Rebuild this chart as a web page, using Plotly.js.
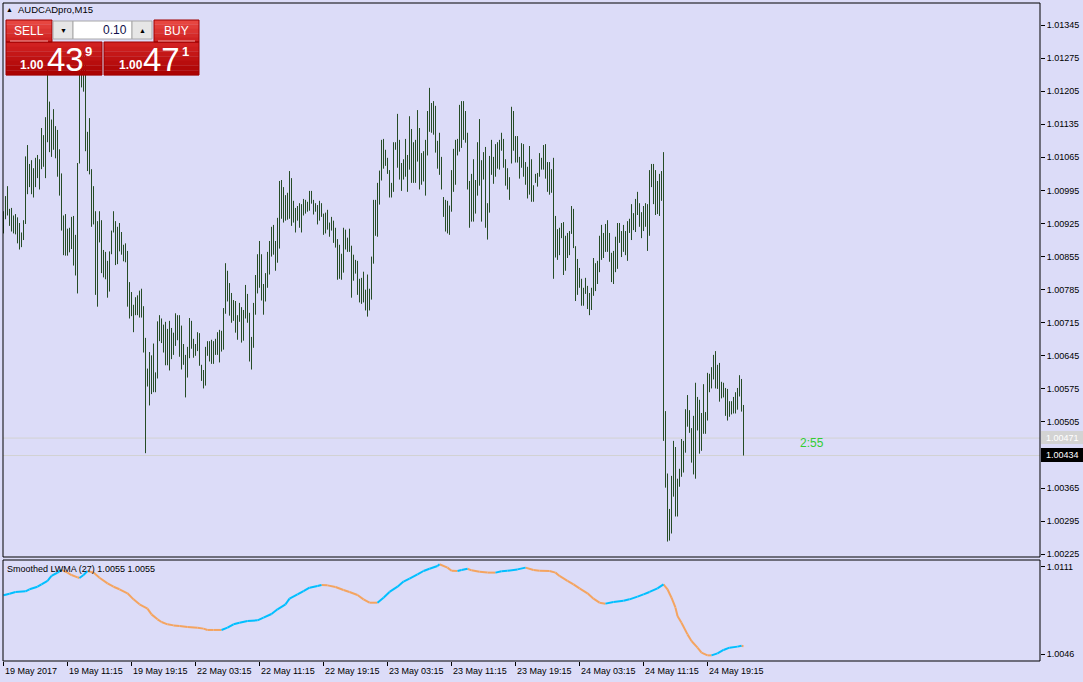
<!DOCTYPE html>
<html><head><meta charset="utf-8">
<script src="https://cdn.plot.ly/plotly-3.0.1.min.js"></script>
<style>html,body{margin:0;padding:0;background:#DCDCF8;}#chart{width:1083px;height:682px;}</style>
</head><body><div id="chart"></div>
<script>
// ---------------- DATA ----------------
const symbolTitle = "AUDCADpro,M15";
const indicatorLabel = "Smoothed LWMA (27) 1.0055 1.0055";
const countdown = "2:55";
const lotSize = "0.10";
const sellQuote = ["1.00", "43", "9"];
const buyQuote = ["1.00", "47", "1"];
const bidPrice = 1.00434;
const askPrice = 1.00471;

// M15 bar highs (bar index 0 = 19 May 03:15)
const barHigh = [
1.00951,1.00983,1.01004,1.00956,1.00958,1.00942,1.00945,1.00938,1.00926,1.00906,
1.00932,1.01067,1.01091,1.01051,1.01059,1.01042,1.01064,1.01070,1.01061,1.01127,
1.01112,1.01150,1.01250,1.01183,1.01145,1.01167,1.01131,1.01123,1.01082,1.01031,
1.00942,1.00945,1.00914,1.00916,1.00939,1.00941,1.00901,1.01053,1.01296,1.01302,
1.01300,1.01290,1.01119,1.01148,1.01040,1.01004,1.00951,1.00930,1.00951,1.00932,
1.00869,1.00865,1.00846,1.00866,1.00910,1.00951,1.00930,1.00918,1.00926,1.00907,
1.00880,1.00883,1.00867,1.00801,1.00780,1.00753,1.00769,1.00773,1.00783,1.00787,
1.00750,1.00683,1.00618,1.00653,1.00646,1.00671,1.00610,1.00718,1.00731,1.00724,
1.00711,1.00717,1.00702,1.00719,1.00704,1.00694,1.00735,1.00731,1.00731,1.00709,
1.00670,1.00647,1.00664,1.00725,1.00719,1.00681,1.00670,1.00695,1.00693,1.00626,
1.00615,1.00664,1.00676,1.00676,1.00679,1.00676,1.00681,1.00695,1.00700,1.00698,
1.00746,1.00841,1.00825,1.00799,1.00778,1.00763,1.00761,1.00731,1.00757,1.00748,
1.00742,1.00795,1.00776,1.00736,1.00685,1.00757,1.00816,1.00860,1.00888,1.00860,
1.00797,1.00820,1.00865,1.00888,1.00918,1.00922,1.00888,1.00937,1.01015,1.01017,
1.01002,1.00985,1.00990,1.01036,1.01021,1.00973,1.00958,1.00962,1.00968,1.00966,
1.00977,1.00975,1.00971,1.00994,1.00994,1.00975,1.00968,1.00964,1.00973,1.00968,
1.00946,1.00948,1.00954,1.00927,1.00939,1.00931,1.00916,1.00892,1.00880,1.00861,
1.00916,1.00912,1.00895,1.00914,1.00878,1.00859,1.00848,1.00846,1.00808,1.00810,
1.00823,1.00785,1.00817,1.00787,1.00855,1.00975,1.00975,1.01011,1.01037,1.01102,
1.01104,1.01081,1.01064,1.01038,1.01011,1.01097,1.01097,1.01157,1.01102,1.01053,
1.01061,1.01104,1.01070,1.01152,1.01125,1.01097,1.01102,1.01165,1.01127,1.01074,
1.01078,1.01102,1.01163,1.01212,1.01180,1.01184,1.01174,1.01100,1.01117,1.01066,
1.00981,1.00975,1.00973,1.00963,1.01038,1.01083,1.01102,1.01104,1.01176,1.01184,
1.01184,1.01163,1.01117,1.01015,1.01030,1.01061,1.01017,1.01097,1.01146,1.01059,
1.01076,1.01087,1.00968,1.01068,1.01102,1.01066,1.01093,1.01097,1.01102,1.01117,
1.01104,1.01061,1.01042,1.01023,1.01172,1.01163,1.01110,1.01110,1.01066,1.01095,
1.01093,1.01055,1.01045,1.01089,1.01061,1.01006,1.01030,1.01032,1.01074,1.01064,
1.01091,1.01093,1.01055,1.01055,1.01040,1.01064,1.00941,1.00913,1.00916,1.00926,
1.00928,1.00899,1.00905,1.00909,1.00962,1.00956,1.00877,1.00850,1.00831,1.00808,
1.00789,1.00810,1.00793,1.00778,1.00789,1.00852,1.00841,1.00846,1.00899,1.00922,
1.00905,1.00924,1.00932,1.00905,1.00863,1.00867,1.00897,1.00926,1.00926,1.00909,
1.00922,1.00909,1.00930,1.00935,1.00966,1.00947,1.00977,1.00992,1.00968,1.00949,
1.00962,1.00968,1.00966,1.01038,1.01051,1.01051,1.01038,1.01015,1.01030,1.01036,
1.01076,1.00528,1.00396,1.00321,1.00391,1.00465,1.00452,1.00385,1.00406,1.00469,
1.00465,1.00532,1.00562,1.00530,1.00492,1.00518,1.00588,1.00558,1.00552,1.00524,
1.00585,1.00526,1.00609,1.00607,1.00621,1.00647,1.00655,1.00626,1.00630,1.00590,
1.00588,1.00577,1.00575,1.00549,1.00549,1.00558,1.00568,1.00577,1.00604,1.00596,
1.00541];

// M15 bar lows
const barLow = [
1.00904,1.00934,1.00942,1.00920,1.00908,1.00904,1.00902,1.00883,1.00870,1.00875,
1.00890,1.00924,1.00987,1.01002,1.00987,1.00980,1.01002,1.01021,1.00997,1.01040,
1.01045,1.01021,1.01097,1.01076,1.01066,1.01081,1.01063,1.01024,1.00984,1.00910,
1.00858,1.00857,1.00857,1.00864,1.00871,1.00836,1.00815,1.00777,1.01052,1.01213,
1.01204,1.01078,1.01036,1.01029,1.00918,1.00923,1.00774,1.00749,1.00885,1.00820,
1.00811,1.00807,1.00768,1.00781,1.00860,1.00906,1.00837,1.00839,1.00866,1.00859,
1.00845,1.00843,1.00749,1.00724,1.00729,1.00695,1.00731,1.00731,1.00726,1.00726,
1.00652,1.00439,1.00580,1.00540,1.00564,1.00568,1.00568,1.00597,1.00676,1.00672,
1.00652,1.00625,1.00625,1.00614,1.00638,1.00647,1.00666,1.00678,1.00643,1.00616,
1.00626,1.00557,1.00599,1.00640,1.00660,1.00641,1.00645,1.00655,1.00624,1.00592,
1.00576,1.00582,1.00645,1.00633,1.00628,1.00628,1.00647,1.00647,1.00631,1.00654,
1.00658,1.00734,1.00760,1.00730,1.00715,1.00719,1.00694,1.00679,1.00717,1.00673,
1.00677,1.00724,1.00715,1.00633,1.00616,1.00662,1.00732,1.00777,1.00789,1.00762,
1.00732,1.00760,1.00789,1.00817,1.00855,1.00859,1.00825,1.00842,1.00872,1.00935,
1.00927,1.00931,1.00933,1.00935,1.00920,1.00927,1.00906,1.00931,1.00916,1.00906,
1.00942,1.00946,1.00950,1.00952,1.00967,1.00944,1.00950,1.00923,1.00931,1.00939,
1.00901,1.00904,1.00912,1.00897,1.00910,1.00884,1.00874,1.00806,1.00808,1.00806,
1.00821,1.00870,1.00865,1.00865,1.00768,1.00804,1.00819,1.00774,1.00758,1.00755,
1.00758,1.00741,1.00728,1.00741,1.00764,1.00840,1.00899,1.00897,1.00965,1.01016,
1.01041,1.01047,1.01030,1.00980,1.00980,1.00992,1.01081,1.01043,1.01018,1.00994,
1.01018,1.01024,1.00992,1.01039,1.01011,1.01011,1.01011,1.01056,1.00997,1.01007,
1.01014,1.00984,1.01069,1.01119,1.01117,1.01113,1.01075,1.01041,1.01028,1.00997,
1.00939,1.00908,1.00904,1.00901,1.00950,1.00992,1.01007,1.01069,1.01077,1.01085,
1.01102,1.01096,1.00997,1.00916,1.00929,1.00929,1.00946,1.00984,1.01005,1.00929,
1.01018,1.00916,1.00891,1.00948,1.01028,1.01009,1.01024,1.01041,1.01039,1.01079,
1.01043,1.01005,1.00997,1.00975,1.01052,1.01079,1.01054,1.01054,1.01020,1.01043,
1.01024,1.01007,1.00978,1.00986,1.00971,1.00971,1.01011,1.01003,1.01024,1.01039,
1.01039,1.01020,1.00992,1.00986,1.00990,1.00808,1.00853,1.00848,1.00858,1.00894,
1.00816,1.00825,1.00852,1.00858,1.00903,1.00873,1.00761,1.00774,1.00789,1.00751,
1.00751,1.00776,1.00744,1.00731,1.00742,1.00772,1.00782,1.00797,1.00822,1.00848,
1.00852,1.00865,1.00865,1.00844,1.00801,1.00797,1.00822,1.00829,1.00884,1.00854,
1.00865,1.00858,1.00846,1.00905,1.00890,1.00911,1.00907,1.00943,1.00918,1.00894,
1.00909,1.00918,1.00867,1.00899,1.01002,1.00966,1.00943,1.00945,1.00941,1.00973,
1.00465,1.00366,1.00252,1.00254,1.00269,1.00347,1.00305,1.00305,1.00368,1.00389,
1.00398,1.00440,1.00495,1.00482,1.00419,1.00394,1.00385,1.00487,1.00438,1.00444,
1.00480,1.00480,1.00508,1.00568,1.00576,1.00595,1.00576,1.00575,1.00548,1.00555,
1.00557,1.00518,1.00508,1.00516,1.00521,1.00523,1.00523,1.00531,1.00559,1.00527,
1.00434];

// Smoothed LWMA(27) read at these bar indices
const lwmaBar = [0,3,6,11,13,17,19,22,24,27,29,32,34,37,38,40,42,45,48,52,55,58,62,65,68,72,74,77,79,82,85,88,92,97,100,102,105,109,112,115,118,122,127,130,134,137,141,143,147,150,153,157,159,162,166,170,173,177,180,183,187,190,193,197,200,203,207,210,213,217,218,222,224,227,229,232,234,238,242,246,249,252,257,261,265,268,273,276,278,282,285,288,292,295,298,301,305,310,313,317,320,323,327,330,332,334,336,337,339,342,344,347,349,352,354,357,360,363,367,369,370];
const lwmaValue = [1.00897,1.00909,1.00922,1.00927,1.00942,1.00961,1.00979,1.01004,1.01041,1.01066,1.01086,1.01066,1.01048,1.01031,1.01026,1.01048,1.01078,1.01066,1.01028,1.00986,1.00961,1.00942,1.00912,1.00867,1.00830,1.00798,1.00755,1.00718,1.00698,1.00681,1.00673,1.00669,1.00661,1.00656,1.00649,1.00639,1.00639,1.00639,1.00656,1.00681,1.00693,1.00706,1.00711,1.00731,1.00758,1.00793,1.00830,1.00872,1.00904,1.00929,1.00954,1.00966,1.00974,1.00971,1.00959,1.00937,1.00922,1.00899,1.00867,1.00842,1.00842,1.00879,1.00922,1.00961,1.00999,1.01021,1.01053,1.01078,1.01095,1.01115,1.01128,1.01103,1.01080,1.01078,1.01086,1.01095,1.01083,1.01073,1.01066,1.01066,1.01076,1.01080,1.01090,1.01103,1.01086,1.01080,1.01078,1.01066,1.01041,1.01004,1.00979,1.00949,1.00912,1.00872,1.00842,1.00835,1.00847,1.00857,1.00867,1.00887,1.00904,1.00922,1.00949,1.00979,1.00942,1.00879,1.00805,1.00743,1.00693,1.00606,1.00557,1.00507,1.00470,1.00450,1.00450,1.00465,1.00490,1.00507,1.00515,1.00522,1.00517];

// axis ticks
const timeTickBar = [0,32,64,96,128,160,192,224,256,288,320,352];
const timeTickText = ["19 May 2017","19 May 11:15","19 May 19:15","22 May 03:15","22 May 11:15","22 May 19:15","23 May 03:15","23 May 11:15","23 May 19:15","24 May 03:15","24 May 11:15","24 May 19:15"];
const priceTicks = [1.00225,1.00295,1.00365,1.00434,1.00505,1.00575,1.00645,1.00715,1.00785,1.00855,1.00925,1.00995,1.01065,1.01135,1.01205,1.01275,1.01345];
const lwmaTicks = [1.0046, 1.0111];
const lwmaTickText = ["1.0046", "1.0111"];

// ---------------- STYLE / LAYOUT ----------------
const BG = '#DCDCF8';
const FONT = 'Liberation Sans, Arial, sans-serif';
const L = 3, T = 3, W = 1037, H = 658;
const px = x => (x - L) / W;
const py = y => (T + H - y) / H;

// bars as vertical high-low segments
const segX = [], segY = [];
for (let i = 0; i < barHigh.length; i++) { segX.push(i, i, null); segY.push(barLow[i], barHigh[i], null); }

// LWMA colour by slope
const upX = [], upY = [], dnX = [], dnY = [];
let prevUp = true;
for (let j = 0; j < lwmaBar.length - 1; j++) {
  const d = lwmaValue[j + 1] - lwmaValue[j];
  const up = d > 0 ? true : (d < 0 ? false : prevUp);
  prevUp = up;
  const X = up ? upX : dnX, Y = up ? upY : dnY;
  X.push(lwmaBar[j], lwmaBar[j + 1], null);
  Y.push(lwmaValue[j], lwmaValue[j + 1], null);
}

const traces = [
  {type:'scatter', mode:'lines', x:segX, y:segY, xaxis:'x', yaxis:'y', line:{color:'#264C26', width:1}, hoverinfo:'skip', connectgaps:false},
  {type:'scatter', mode:'lines', x:dnX, y:dnY, xaxis:'x', yaxis:'y2', line:{color:'#F4A460', width:2}, hoverinfo:'skip', connectgaps:false},
  {type:'scatter', mode:'lines', x:upX, y:upY, xaxis:'x', yaxis:'y2', line:{color:'#00BFFF', width:2}, hoverinfo:'skip', connectgaps:false}
];

const shapes = [];
const annotations = [];
function rect(x0, y0, x1, y1, fill, line, lw) {
  shapes.push({type:'rect', xref:'paper', yref:'paper', x0:px(x0), x1:px(x1), y0:py(y1), y1:py(y0),
    fillcolor:fill, line:{color:line || 'rgba(0,0,0,0)', width: lw === undefined ? (line ? 1 : 0) : lw}, layer:'above'});
}
function hexMix(a, b, t) {
  const pa = [1,3,5].map(k => parseInt(a.substr(k,2),16)), pb = [1,3,5].map(k => parseInt(b.substr(k,2),16));
  return 'rgb(' + pa.map((v,k) => Math.round(v + (pb[k]-v)*t)).join(',') + ')';
}
function gradRect(x0, y0, x1, y1, c0, c1, n) {
  const h = (y1 - y0) / n;
  for (let k = 0; k < n; k++) rect(x0, y0 + k*h, x1, y0 + (k+1)*h + 0.3, hexMix(c0, c1, (k+0.5)/n));
}
function ann(text, x, y, size, color, xanchor, bold, extra) {
  annotations.push(Object.assign({xref:'paper', yref:'paper', x:px(x), y:py(y), text: bold ? '<b>'+text+'</b>' : text,
    showarrow:false, xanchor:xanchor || 'center', yanchor:'middle', borderpad:0,
    font:{family:FONT, size:size, color:color}}, extra || {}));
}

// panel borders
shapes.push({type:'rect', xref:'paper', yref:'paper', x0:0, x1:1, y0:py(557), y1:1, line:{color:'#000', width:1}, layer:'above'});
shapes.push({type:'rect', xref:'paper', yref:'paper', x0:0, x1:1, y0:0, y1:py(560), line:{color:'#000', width:1}, layer:'above'});
// bid / ask lines
shapes.push({type:'line', xref:'paper', yref:'y', x0:0, x1:1, y0:askPrice, y1:askPrice, line:{color:'#D2D2D2', width:1}, layer:'below'});
shapes.push({type:'line', xref:'paper', yref:'y', x0:0, x1:1, y0:bidPrice, y1:bidPrice, line:{color:'#D2D2D2', width:1}, layer:'below'});
// price labels on axis
rect(1041, 431, 1083, 444, '#D3D3D3');
ann(askPrice.toFixed(5), 1045, 437.5, 9, '#FFFFFF', 'left');
rect(1041, 448, 1083, 462, '#000000');
ann(bidPrice.toFixed(5), 1045, 455, 9, '#FFFFFF', 'left');

// one-click trade panel
gradRect(6, 20, 52, 42, '#EA4A44', '#CC1E1E', 5);
gradRect(6, 42, 102, 75, '#D42424', '#A80000', 7);
rect(6, 20, 52, 42, 'rgba(0,0,0,0)', '#A00000');
rect(6, 42, 102, 75, 'rgba(0,0,0,0)', '#A00000');
gradRect(154, 20, 199, 42, '#EA4A44', '#CC1E1E', 5);
gradRect(104, 42, 199, 75, '#D42424', '#A80000', 7);
rect(154, 20, 199, 42, 'rgba(0,0,0,0)', '#A00000');
rect(104, 42, 199, 75, 'rgba(0,0,0,0)', '#A00000');
shapes.push({type:'line', xref:'paper', yref:'paper', x0:px(10), x1:px(48), y0:py(41), y1:py(41), line:{color:'#F3A0A0', width:1}, layer:'above'});
shapes.push({type:'line', xref:'paper', yref:'paper', x0:px(158), x1:px(195), y0:py(41), y1:py(41), line:{color:'#F3A0A0', width:1}, layer:'above'});
rect(53, 21, 73, 39, '#E6E6E6', '#A8A8A8');
rect(73, 21, 132, 39, '#FFFFFF', '#A8A8A8');
rect(132, 21, 152, 39, '#E6E6E6', '#A8A8A8');
ann('▼', 63, 30, 7, '#000', 'center');
ann('▲', 142, 30, 7, '#000', 'center');
ann(lotSize, 128, 30, 12, '#10104A', 'right');
ann('SELL', 28.5, 30.5, 12, '#FFFFFF', 'center');
ann('BUY', 176.5, 30.5, 12, '#FFFFFF', 'center');
ann(sellQuote[0], 32, 65, 12, '#FFFFFF', 'center', true);
ann(sellQuote[1], 65, 59, 33, '#FFFFFF', 'center');
ann(sellQuote[2], 88.5, 51, 13, '#FFFFFF', 'center', true);
ann(buyQuote[0], 130.5, 65, 12, '#FFFFFF', 'center', true);
ann(buyQuote[1], 161.5, 59, 33, '#FFFFFF', 'center');
ann(buyQuote[2], 185, 51, 13, '#FFFFFF', 'center', true);

// titles and labels
ann('▲', 9.5, 10, 7, '#000', 'center');
ann(symbolTitle, 17, 10, 9.5, '#000', 'left');
ann(indicatorLabel, 6, 568.5, 9, '#000', 'left');
ann(countdown, 812, 443, 12, '#32CD32', 'center');

// time labels, left aligned at their ticks
timeTickBar.forEach((b, k) => {
  annotations.push({xref:'x', yref:'paper', x:b, y:py(671), text:timeTickText[k], showarrow:false,
    xanchor:'left', yanchor:'middle', borderpad:0, xshift:0, font:{family:FONT, size:9, color:'#000'}});
});

const layout = {
  width:1083, height:682,
  margin:{l:L, r:1083 - L - W, t:T, b:682 - T - H, pad:0},
  paper_bgcolor:BG, plot_bgcolor:BG, showlegend:false,
  font:{family:FONT, size:9, color:'#000'},
  xaxis:{domain:[0,1], anchor:'y2', range:[-0.25, W/2 - 0.25], showgrid:false, zeroline:false, showline:false,
    tickmode:'array', tickvals:timeTickBar, ticktext:timeTickBar.map(() => ''), ticks:'outside', ticklen:4, tickcolor:'#000', tickwidth:1, showticklabels:false},
  yaxis:{domain:[py(557), 1], anchor:'x', side:'right', range:[1.002193, 1.013916], showgrid:false, zeroline:false, showline:false,
    tickmode:'array', tickvals:priceTicks, tickformat:'.5f', ticks:'outside', ticklen:4, tickcolor:'#000', tickwidth:1,
    tickfont:{family:FONT, size:9, color:'#000'}},
  yaxis2:{domain:[0, py(560)], anchor:'x', side:'right', range:[1.004079, 1.011599], showgrid:false, zeroline:false, showline:false,
    tickmode:'array', tickvals:lwmaTicks, ticktext:lwmaTickText, ticks:'outside', ticklen:4, tickcolor:'#000', tickwidth:1,
    tickfont:{family:FONT, size:9, color:'#000'}},
  shapes:shapes, annotations:annotations
};

Plotly.newPlot('chart', traces, layout, {displayModeBar:false, staticPlot:true});
</script>
</body></html>
